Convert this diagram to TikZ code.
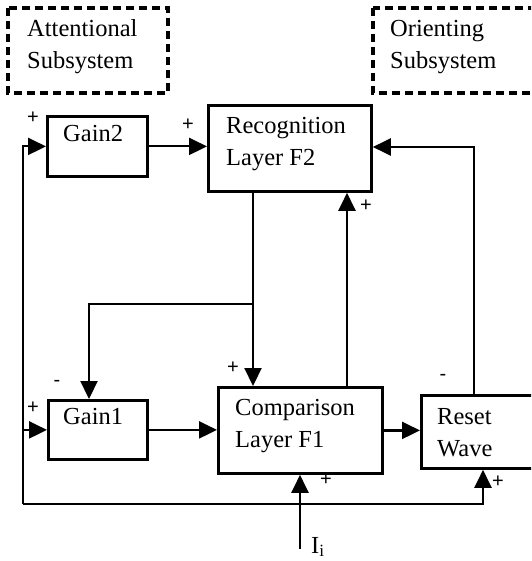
\documentclass[tikz,border=0pt]{standalone}
\usepackage{fontspec}
\setmainfont{Liberation Serif}
\newfontfamily\signfont{Liberation Sans}
\usetikzlibrary{arrows.meta}
\begin{document}
\begin{tikzpicture}[x=1pt,y=-1pt,
  box/.style={draw,line width=2.8pt,anchor=north west,inner sep=0pt},
  group/.style={draw,line width=3.2pt,dash pattern=on 8pt off 5pt},
  txt/.style={anchor=base west,inner sep=0pt,align=left,
    font=\fontsize{24.5}{32}\selectfont},
  sign/.style={inner sep=0pt,font=\signfont\fontsize{20}{20}\selectfont},
  link/.style={line width=2.2pt},
  feed/.style={link,-{Triangle[length=18pt,width=17pt]}}]
\useasboundingbox (0,0) rectangle (531,561);
\clip (0,0) rectangle (531,561);

% subsystem groupings
\draw[group] (8,8) rectangle (168,93);
\draw[group] (373,8) rectangle (545,93);
% two-line texts are anchored at the baseline of their last line
\node[txt] (attTxt) at (27,69) {Attentional\\Subsystem};
\node[txt] (oriTxt) at (390,69) {Orienting\\Subsystem};

% processing blocks
\node[box,minimum width=100pt,minimum height=60pt] (gain2) at (46,115) {};
\node[box,minimum width=163pt,minimum height=86pt] (recog) at (207,104) {};
\node[box,minimum width=99pt,minimum height=59pt] (gain1) at (47,399) {};
\node[box,minimum width=164pt,minimum height=86pt] (comp) at (217,386) {};
\node[box,minimum width=125pt,minimum height=73pt] (reset) at (420,394) {};

\node[txt] (gain2Txt) at (63,142) {Gain2};
\node[txt] (recogTxt) at (226,166) {Recognition\\Layer F2};
\node[txt] (gain1Txt) at (63,424) {Gain1};
\node[txt] (compTxt) at (235,447) {Comparison\\Layer F1};
\node[txt] (resetTxt) at (437,456) {Reset\\Wave};
\node[txt] (inTxt) at (311,553) {I\textsubscript{i}};

% routing points
\coordinate (lx) at (23,504);
\coordinate (rx) at (483,504);
\coordinate (dx) at (253,304);
\coordinate (gx) at (89,304);
\coordinate (fx) at (347,300);
\coordinate (rs) at (474,147);
\coordinate (ii) at (300,549);

% connections
\draw[feed] (gain2.east) -- (gain2.east -| recog.west);
\draw[feed] (gain1.east) -- (gain1.east -| comp.west);
\draw[feed] (comp.east) -- (comp.east -| reset.west);
\draw[feed] (recog.south -| dx) -- (comp.north -| dx);
\draw[feed] (dx) -- (gx) -- (gain1.north -| gx);
\draw[feed] (comp.north -| fx) -- (recog.south -| fx);
\draw[feed] (reset.north -| rs) -- (rs) -- (rs -| recog.east);
\draw[feed] (lx) -- (lx |- gain2.west) -- (gain2.west);
\draw[feed] (lx |- gain1.west) -- (gain1.west);
\draw[feed] (lx) -- (rx) -- (reset.south -| rx);
\draw[feed] (ii) -- (comp.south -| ii);

% signs
\node[sign] (s1) at (33,118) {+};
\node[sign] (s2) at (188,125) {+};
\node[sign] (s3) at (57,383) {-};
\node[sign] (s4) at (33,408) {+};
\node[sign] (s5) at (233,368) {+};
\node[sign] (s6) at (366,206) {+};
\node[sign] (s7) at (443,377) {-};
\node[sign] (s8) at (326,480) {+};
\node[sign] (s9) at (498,482) {+};
\end{tikzpicture}
\end{document}
